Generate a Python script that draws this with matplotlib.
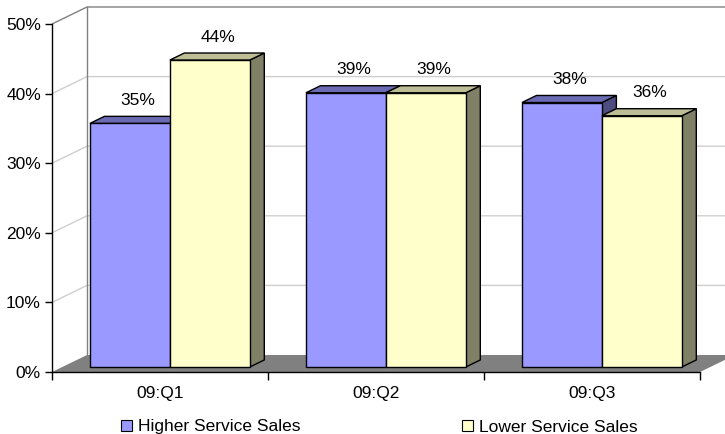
import matplotlib
matplotlib.use('Agg')
import matplotlib.pyplot as plt
from matplotlib.patches import Polygon, Patch

categories = ['09:Q1', '09:Q2', '09:Q3']
series_names = ['Higher Service Sales', 'Lower Service Sales']
higher = [35.0, 39.4, 38.0]
lower = [44.1, 39.4, 36.1]
yticks = [0, 10, 20, 30, 40, 50]

plt.rcParams['font.family'] = ['Liberation Sans', 'DejaVu Sans']
FS = 12.5

W, H = 725, 434
fig = plt.figure(figsize=(W / 100, H / 100), dpi=100)
ax = fig.add_axes([52 / W, (H - 372) / H, 648 / W, 348 / H])
ax.set_xlim(0, len(categories))
ax.set_ylim(0, 50)
ax.patch.set_visible(False)
for s in ['top', 'right']:
    ax.spines[s].set_visible(False)
for s in ['left', 'bottom']:
    ax.spines[s].set_color('black')
    ax.spines[s].set_linewidth(1)
    ax.spines[s].set_zorder(5)

# depth offsets in data units
DX = 35 / 216
DY = 17 / (348 / 50)
n = len(categories)

# back wall gridlines and side-wall diagonals
for v in yticks[1:]:
    col = '#808080' if v == 50 else '#cfcfcf'
    ax.plot([0, DX, n + DX + 0.5], [v, v + DY, v + DY], color=col, lw=1,
            clip_on=False, zorder=1, solid_capstyle='butt')
ax.plot([DX, DX], [DY, 50 + DY], color='#808080', lw=1, clip_on=False, zorder=1)

# floor
ax.add_patch(Polygon([(0, 0), (n, 0), (n + DX, DY), (DX, DY)], closed=True,
                     facecolor='#808080', edgecolor='none', clip_on=False, zorder=1.5))

series = [higher, lower]
face = ['#9999FF', '#FFFFCC']
topc = ['#6B6BB3', '#BDBD96']
sidec = ['#4D4D80', '#808066']
offs = [0.128, 0.128 + 0.370]
bw = 0.370
zf, zb = 0.294, 0.709

z = 2
for i in range(n):
    for j, vals in enumerate(series):
        h = vals[i]
        fx = i + offs[j] + zf * DX
        fy = zf * DY
        ox = (zb - zf) * DX
        oy = (zb - zf) * DY
        front = [(fx, fy), (fx + bw, fy), (fx + bw, fy + h), (fx, fy + h)]
        top = [(fx, fy + h), (fx + bw, fy + h), (fx + bw + ox, fy + h + oy), (fx + ox, fy + h + oy)]
        side = [(fx + bw, fy), (fx + bw + ox, fy + oy), (fx + bw + ox, fy + h + oy), (fx + bw, fy + h)]
        for pts, c in [(side, sidec[j]), (top, topc[j]), (front, face[j])]:
            ax.add_patch(Polygon(pts, closed=True, facecolor=c, edgecolor='black',
                                 lw=1, joinstyle='miter', clip_on=False, zorder=z))
        z += 0.1
        ax.annotate(f'{round(h)}%', xy=(fx + bw / 2, fy + h), xytext=(8, 23),
                    textcoords='offset pixels', ha='center', va='center',
                    fontsize=FS, color='#000000', zorder=10, annotation_clip=False)

ax.set_yticks(yticks)
ax.set_yticklabels([f'{v}%' for v in yticks])
ax.tick_params(axis='y', direction='out', length=5, width=1, pad=3, labelsize=FS, colors='black')
ax.set_xticks(range(n + 1))
ax.set_xticklabels([''] * (n + 1))
ax.set_xticks([i + 0.5 for i in range(n)], minor=True)
ax.set_xticklabels(categories, minor=True)
ax.tick_params(axis='x', which='major', direction='out', length=6, width=1)
ax.tick_params(axis='x', which='minor', length=0, pad=10, labelsize=FS)

handles = [Patch(facecolor=face[0], edgecolor='black', lw=0.8),
           Patch(facecolor=face[1], edgecolor='black', lw=0.8)]
fig.legend(handles=handles, labels=series_names, loc='center left',
           bbox_to_anchor=(121 / W, (H - 427) / H), ncol=2, frameon=False,
           fontsize=FS, handlelength=0.63, handleheight=0.63, handletextpad=0.35,
           columnspacing=9.3, borderpad=0, borderaxespad=0)

fig.savefig('out.png', dpi=100)
